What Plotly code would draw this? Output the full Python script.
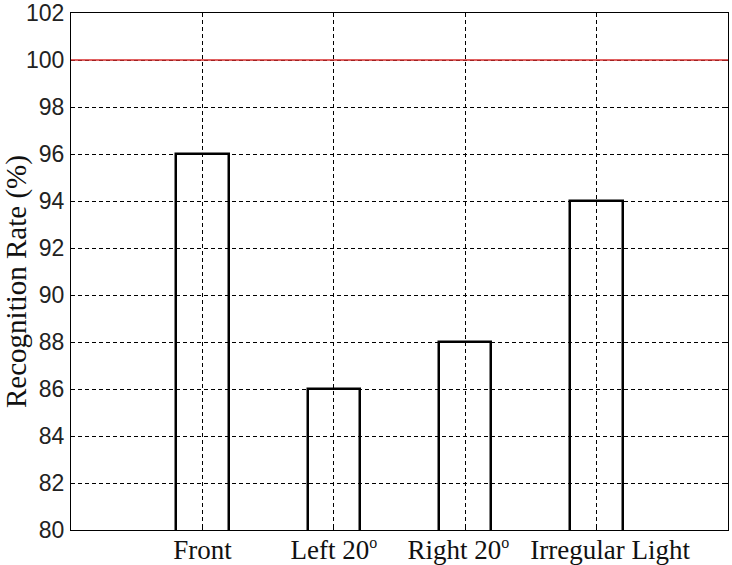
import plotly.graph_objects as go

sup_o = "<sup><span style='font-size:16px'>o</span></sup>"
categories = ["Front", "Left 20" + sup_o, "Right 20" + sup_o + "&nbsp;&nbsp;",
              "&nbsp;&nbsp;&nbsp;&nbsp;Irregular Light"]
positions = [1, 2, 3, 4]
rates = [96, 86, 88, 94]
reference_rate = 100
y_ticks = list(range(80, 103, 2))

W, H = 732, 565
L, R, T, B = 71, 4, 13, 35
pw, ph = W - L - R, H - T - B

fig = go.Figure()
fig.add_trace(go.Bar(
    x=positions, y=rates, width=0.4,
    marker=dict(color="rgba(0,0,0,0)", line=dict(color="black", width=2.5)),
    showlegend=False,
))

fig.add_shape(type="line", xref="paper", x0=0, x1=1, yref="y", y0=reference_rate, y1=reference_rate,
              line=dict(color="rgb(215,45,45)", width=1.5), layer="above")

fig.add_annotation(text="Recognition Rate (%)", xref="paper", yref="paper",
                   x=(16 - L) / pw, y=(H - B - 282) / ph, textangle=-90, showarrow=False,
                   xanchor="center", yanchor="middle",
                   font=dict(family="Liberation Serif", size=29, color="#111"))

fig.update_layout(
    width=W, height=H,
    margin=dict(l=L, r=R, t=T, b=B, autoexpand=False),
    plot_bgcolor="white", paper_bgcolor="white",
    xaxis=dict(range=[0, 5], tickvals=positions, ticktext=categories, tickangle=0,
               showgrid=True, gridcolor="black", griddash="4px,3px", gridwidth=1,
               showline=True, linecolor="black", linewidth=1, mirror="ticks",
               ticks="inside", ticklen=4, tickcolor="black", automargin=False,
               tickfont=dict(family="Liberation Serif", size=27, color="#111"),
               ticklabelstandoff=-4, zeroline=False),
    yaxis=dict(range=[80, 102], tickvals=y_ticks,
               showgrid=True, gridcolor="black", griddash="4px,3px", gridwidth=1,
               showline=True, linecolor="black", linewidth=1, mirror="ticks",
               ticks="inside", ticklen=4, tickcolor="black", automargin=False,
               tickfont=dict(family="Liberation Sans", size=23, color="#222"),
               ticklabelstandoff=1, zeroline=False),
    bargap=0,
)

fig.write_html("out.html", config={"displayModeBar": False},
               post_script="document.body.style.margin='0';")
